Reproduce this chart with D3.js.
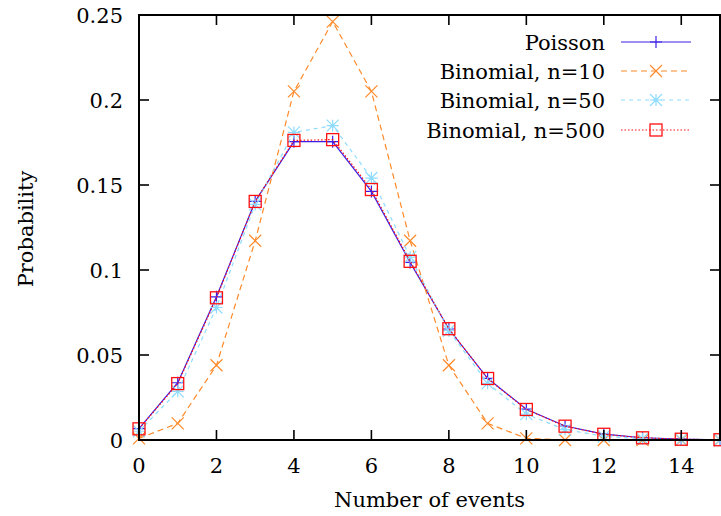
<!DOCTYPE html>
<html><head><meta charset="utf-8">
<script src="https://cdn.jsdelivr.net/npm/d3@7"></script>
<style>body{margin:0;background:#fff}svg{display:block}</style>
</head><body><svg id="c" width="721" height="516"></svg>
<script>
const events = [0,1,2,3,4,5,6,7,8,9,10,11,12,13,14,15];
const poisson = [0.00674,0.03369,0.08422,0.14037,0.17547,0.17547,0.14622,0.10444,0.06528,0.03627,0.01813,0.00824,0.00343,0.00132,0.00047,0.00016];
const binom10 = [0.00098,0.00977,0.04395,0.11719,0.20508,0.24609,0.20508,0.11719,0.04395,0.00977,0.00098,0,0,0,0,0];
const binom50 = [0.00515,0.02863,0.07794,0.13857,0.18095,0.18492,0.15410,0.10763,0.06428,0.03333,0.01518,0.00613,0.00222,0.00072,0.00021,0.00006];
const binom500 = [0.00657,0.03318,0.08365,0.14033,0.17622,0.17669,0.14734,0.10510,0.06547,0.03618,0.01796,0.00813,0.00337,0.00129,0.00045,0.00015];
const seriesNames = ["Poisson","Binomial, n=10","Binomial, n=50","Binomial, n=500"];
const xTicks = [0,2,4,6,8,10,12,14];
const yTicks = [0,0.05,0.1,0.15,0.2,0.25];
const yTickLabels = ["0","0.05","0.1","0.15","0.2","0.25"];

const FONT = "DejaVu Serif";
const svg = d3.select("#c");
const L=139, R=720, T=15, B=440;
const x = d3.scaleLinear().domain([0,15]).range([L,R]);
const y = d3.scaleLinear().domain([0,0.25]).range([B,T]);
const FS = 21;

const styles = [
  {data:poisson, color:"#3c1ee6", dash:null, marker:"plus"},
  {data:binom10, color:"#ff8a2a", dash:"6,4", marker:"cross"},
  {data:binom50, color:"#8fdcff", dash:"4,4", marker:"star"},
  {data:binom500, color:"#ff1010", dash:"1.5,2", marker:"square"}
];

function drawMarker(g, type, cx, cy, color){
  const s = 6;
  if(type==="plus"){
    g.append("path").attr("d",`M${cx-s},${cy}H${cx+s}M${cx},${cy-s}V${cy+s}`).attr("stroke",color).attr("stroke-width",1.2).attr("fill","none");
  } else if(type==="cross"){
    g.append("path").attr("d",`M${cx-s},${cy-s}L${cx+s},${cy+s}M${cx-s},${cy+s}L${cx+s},${cy-s}`).attr("stroke",color).attr("stroke-width",1.2).attr("fill","none");
  } else if(type==="star"){
    g.append("path").attr("d",`M${cx-s},${cy}H${cx+s}M${cx},${cy-s}V${cy+s}M${cx-s},${cy-s}L${cx+s},${cy+s}M${cx-s},${cy+s}L${cx+s},${cy-s}`).attr("stroke",color).attr("stroke-width",1.2).attr("fill","none");
  } else {
    g.append("rect").attr("x",cx-s).attr("y",cy-s).attr("width",2*s).attr("height",2*s).attr("stroke",color).attr("stroke-width",1.3).attr("fill","none");
  }
}
function txt(sel){ return sel.style("font-family",FONT).attr("font-size",FS).attr("fill","#000"); }

// data
const line = d3.line().x((d,i)=>x(events[i])).y(d=>y(d));
styles.forEach(st=>{
  const g = svg.append("g");
  g.append("path").datum(st.data).attr("d",line).attr("fill","none").attr("stroke",st.color).attr("stroke-width",1.2).attr("stroke-dasharray",st.dash);
  st.data.forEach((v,i)=>drawMarker(g, st.marker, x(events[i]), y(v), st.color));
});

// ticks (inward, mirrored)
const tk = 10;
const ax = svg.append("g").attr("stroke","#000").attr("stroke-width",1.6);
xTicks.forEach(t=>{
  ax.append("line").attr("x1",x(t)).attr("x2",x(t)).attr("y1",B).attr("y2",B-tk);
  ax.append("line").attr("x1",x(t)).attr("x2",x(t)).attr("y1",T).attr("y2",T+tk);
});
yTicks.forEach(t=>{
  ax.append("line").attr("x1",L).attr("x2",L+tk).attr("y1",y(t)).attr("y2",y(t));
  ax.append("line").attr("x1",R).attr("x2",R-tk).attr("y1",y(t)).attr("y2",y(t));
});
svg.append("rect").attr("x",L).attr("y",T).attr("width",R-L).attr("height",B-T).attr("fill","none").attr("stroke","#000").attr("stroke-width",2);

// tick labels
xTicks.forEach(t=>{
  txt(svg.append("text")).attr("x",x(t)).attr("y",B+33).attr("text-anchor","middle").text(t);
});
yTicks.forEach((t,i)=>{
  txt(svg.append("text")).attr("x",L-16).attr("y",y(t)+8).attr("text-anchor","end").text(yTickLabels[i]);
});

// axis titles
txt(svg.append("text")).attr("x",(L+R)/2).attr("y",507).attr("text-anchor","middle").text("Number of events");
txt(svg.append("text")).attr("transform","translate(33,229) rotate(-90)").attr("text-anchor","middle").text("Probability");

// legend
const legY = [42,71,100,130];
styles.forEach((st,i)=>{
  const g = svg.append("g");
  txt(g.append("text")).attr("x",605).attr("y",legY[i]+8).attr("text-anchor","end").text(seriesNames[i]);
  g.append("line").attr("x1",621).attr("x2",691).attr("y1",legY[i]).attr("y2",legY[i]).attr("stroke",st.color).attr("stroke-width",1.2).attr("stroke-dasharray",st.dash);
  drawMarker(g, st.marker, 656, legY[i], st.color);
});
</script></body></html>
